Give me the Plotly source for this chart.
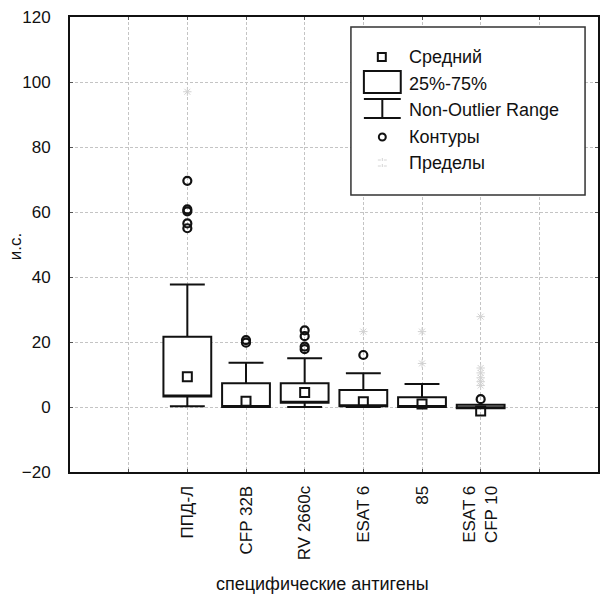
import plotly.graph_objects as go

# ---------------- data ----------------
categories = ["ППД-Л", "CFP 32B", "RV 2660c", "ESAT 6", "85", "ESAT 6<br>CFP 10"]
q1 = [3.2, 0.0, 1.3, 0.2, 0.0, -0.4]
q3 = [21.6, 7.3, 7.3, 5.2, 3.0, 0.7]
lower_fence = [0.2, 0.0, 0.0, 0.0, 0.0, -0.4]
upper_fence = [37.7, 13.6, 15.0, 10.4, 7.1, 0.7]
means = [9.3, 1.8, 4.5, 1.6, 0.9, -1.2]
outliers = [
    [69.6, 60.8, 60.2, 56.5, 55.0],
    [19.8, 20.6],
    [17.8, 18.6, 21.8, 23.6],
    [16.0],
    [],
    [2.4],
]
extremes = [
    [97.0],
    [],
    [],
    [23.2],
    [23.2, 13.4],
    [27.8, 12.0, 10.5, 9.0, 7.8, 6.6],
]
y_ticks = [-20, 0, 20, 40, 60, 80, 100, 120]
legend_labels = ["Средний", "25%-75%", "Non-Outlier Range", "Контуры", "Пределы"]
x_title = "специфические антигены"
y_title = "и.с."

FONT = "Liberation Sans, Arial, sans-serif"
W, H = 600, 596
ML, MR, MT, MB = 70, 0, 17, 124
PW, PH = W - ML - MR, H - MT - MB

positions = [i + 1 for i in range(len(categories))]

fig = go.Figure()

for i, c in enumerate(categories):
    fig.add_trace(go.Box(
        x=[positions[i]], q1=[q1[i]], median=[q1[i]], q3=[q3[i]],
        lowerfence=[lower_fence[i]], upperfence=[upper_fence[i]],
        width=0.815, whiskerwidth=0.73,
        fillcolor="white", line=dict(color="#111111", width=2),
        boxpoints=False, showlegend=False, hoverinfo="skip",
    ))

# extremes (faint)
ex_x, ex_y = [], []
for i, vals in enumerate(extremes):
    for v in vals:
        ex_x.append(positions[i]); ex_y.append(v)
fig.add_trace(go.Scatter(
    x=ex_x, y=ex_y, mode="markers", showlegend=False,
    marker=dict(symbol="asterisk-open", size=7, color="#d2d2d2",
                line=dict(color="#d2d2d2", width=1)),
))

# outliers
ou_x, ou_y = [], []
for i, vals in enumerate(outliers):
    for v in vals:
        ou_x.append(positions[i]); ou_y.append(v)
fig.add_trace(go.Scatter(
    x=ou_x, y=ou_y, mode="markers", showlegend=False,
    marker=dict(symbol="circle-open", size=8, color="#111111",
                line=dict(color="#111111", width=2.2)),
))

# means
fig.add_trace(go.Scatter(
    x=positions, y=means, mode="markers", showlegend=False,
    marker=dict(symbol="square-open", size=9, color="#111111",
                line=dict(color="#111111", width=2)),
))

# ---------------- manual legend ----------------
def px(x):
    return (x - ML) / PW

def py(y):
    return (MT + PH - y) / PH

shapes = []
annotations = []
line_col = "#111111"
shapes.append(dict(type="rect", xref="paper", yref="paper",
                   x0=px(352), x1=px(587), y0=py(195), y1=py(27),
                   line=dict(color="#333333", width=1.5), fillcolor="white", layer="above"))
# mean icon
shapes.append(dict(type="rect", xref="paper", yref="paper",
                   x0=px(379), x1=px(387), y0=py(61), y1=py(53),
                   line=dict(color=line_col, width=2), layer="above"))
# box icon
shapes.append(dict(type="rect", xref="paper", yref="paper",
                   x0=px(365), x1=px(402), y0=py(93), y1=py(71),
                   line=dict(color=line_col, width=2), layer="above"))
# whisker icon
for (x0, y0, x1, y1) in [(365, 99, 402, 99), (383.5, 99, 383.5, 118), (365, 118, 402, 118)]:
    shapes.append(dict(type="line", xref="paper", yref="paper",
                       x0=px(x0), x1=px(x1), y0=py(y0), y1=py(y1),
                       line=dict(color=line_col, width=2), layer="above"))
# outlier icon
shapes.append(dict(type="circle", xref="paper", yref="paper",
                   x0=px(380), x1=px(387), y0=py(140.5), y1=py(133.5),
                   line=dict(color=line_col, width=2), layer="above"))
# extreme icon
for (x0, y0, x1, y1) in [(379, 160, 388, 160), (379, 166, 388, 166), (383.5, 158, 383.5, 168)]:
    shapes.append(dict(type="line", xref="paper", yref="paper",
                       x0=px(x0), x1=px(x1), y0=py(y0), y1=py(y1),
                       line=dict(color="#d4d4d4", width=1, dash="dot"), layer="above"))

row_y = [57, 84, 110, 137, 163]
for lab, yy in zip(legend_labels, row_y):
    annotations.append(dict(text=lab, xref="paper", yref="paper", x=px(408), y=py(yy),
                            xanchor="left", yanchor="middle", showarrow=False,
                            font=dict(family=FONT, size=18, color="#111111")))

annotations.append(dict(text=x_title, xref="paper", yref="paper", x=px(323), y=py(584),
                        xanchor="center", yanchor="middle", showarrow=False,
                        font=dict(family=FONT, size=18, color="#111111")))
annotations.append(dict(text=y_title, xref="paper", yref="paper", x=px(15), y=py(247),
                        xanchor="center", yanchor="middle", showarrow=False, textangle=-90,
                        font=dict(family=FONT, size=17, color="#111111")))

grid_vals = list(range(0, len(categories) + 2))
grid_text = [""] + categories + [""]

fig.update_layout(
    width=W, height=H,
    margin=dict(l=ML, r=MR, t=MT, b=MB, pad=0),
    paper_bgcolor="white", plot_bgcolor="white",
    shapes=shapes, annotations=annotations,
    font=dict(family=FONT, size=17, color="#111111"),
    showlegend=False,
    xaxis=dict(range=[-1, 8], tickmode="array", tickvals=grid_vals, ticktext=grid_text,
               tickangle=-90, showgrid=True, gridcolor="#c4c4c4", griddash="3px,2px", gridwidth=1,
               showline=True, linecolor="#111111", linewidth=2, mirror="ticks",
               ticks="inside", ticklen=3, tickcolor="#555555",
               tickfont=dict(family=FONT, size=17, color="#111111"),
               ticklabelstandoff=5, zeroline=False, fixedrange=True),
    yaxis=dict(range=[-20, 120], tickmode="array", tickvals=y_ticks,
               showgrid=True, gridcolor="#c4c4c4", griddash="3px,2px", gridwidth=1,
               showline=True, linecolor="#111111", linewidth=2, mirror="ticks",
               ticks="inside", ticklen=3, tickcolor="#555555",
               tickfont=dict(family=FONT, size=17, color="#111111"),
               ticklabelstandoff=14, zeroline=False, fixedrange=True),
)

fig.write_html("out.html")
